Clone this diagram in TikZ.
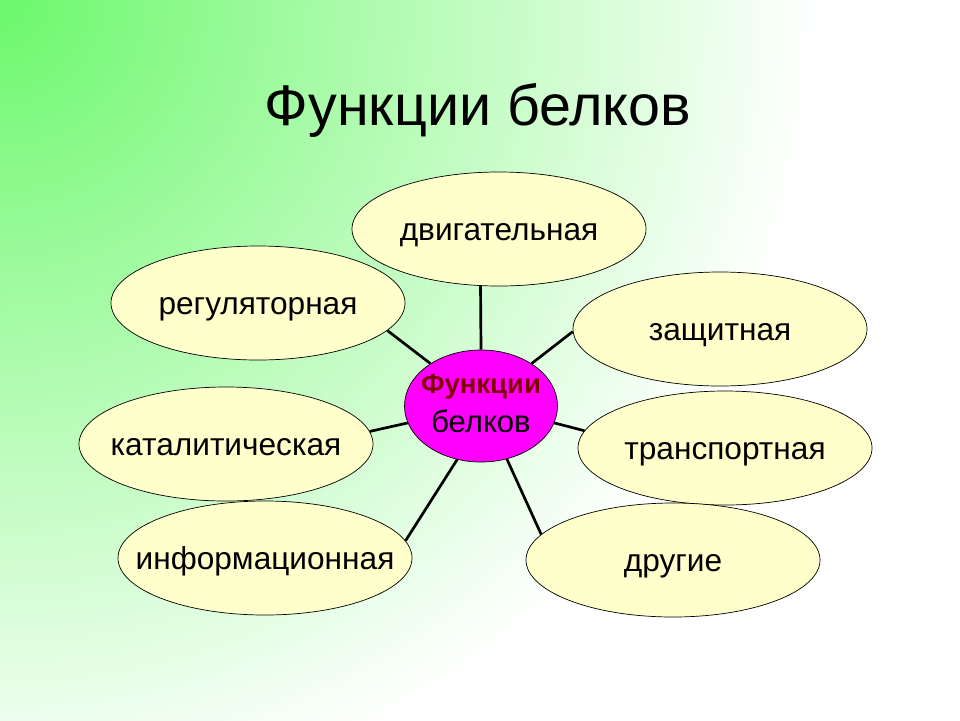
\documentclass[tikz,border=0pt]{standalone}
\usepackage{fontspec}
\setmainfont{Liberation Sans}
\usetikzlibrary{shapes.geometric}

\definecolor{bggreen}{RGB}{108,248,108}
\definecolor{petalfill}{RGB}{255,255,204}
\definecolor{corefill}{RGB}{255,0,255}
\definecolor{corered}{RGB}{128,0,0}
\newcommand{\nowidth}[1]{\makebox[0pt]{#1}}

\begin{document}
\begin{tikzpicture}[x=0.03cm, y=-0.03cm,
  petal/.style={ellipse, draw, line width=0.6pt, fill=petalfill, inner sep=0pt,
    minimum width=8.82cm, minimum height=3.42cm, text height=18.8pt, text depth=0pt,
    font=\fontsize{27}{30}\selectfont},
  core/.style={ellipse, draw, line width=0.6pt, fill=corefill, inner sep=0pt,
    minimum width=4.59cm, minimum height=3.36cm, align=center,
    font=\fontsize{26.5}{34}\selectfont},
  spoke/.style={line width=2.3pt}]
\useasboundingbox (0,0) rectangle (960,720);
\begin{scope}
\clip (0,0) rectangle (960,720);
\fill[white] (0,0) rectangle (960,720);
\shade[inner color=bggreen, outer color=white] (0,0) circle (820);
\end{scope}

% title
\node[anchor=base, font=\fontsize{49}{60}\selectfont] (title) at (478,125) {Функции белков};

% centre and petals
\node[core] (c) at (481,406) {\nowidth{\rule{0pt}{20pt}\fontsize{23.5}{34}\selectfont\bfseries\color{corered}Функции}\\
  \nowidth{\rule[-8pt]{0pt}{8pt}белков}};
\node[petal] (dvig) at (499,229) {\nowidth{двигательная}};
\node[petal] (reg) at (258,303) {\nowidth{регуляторная}};
\node[petal] (zash) at (720,329) {\nowidth{защитная}};
\node[petal] (kat) at (226,444) {\nowidth{каталитическая}};
\node[petal] (trans) at (725,448) {\nowidth{транспортная}};
\node[petal] (inf) at (265,558) {\nowidth{информационная}};
\node[petal] (dr) at (673,560) {\nowidth{другие}};

% spokes
\draw[spoke] (c.90) -- (dvig.-108);
\draw[spoke] (c.140) -- (reg.-12);
\draw[spoke] (c.40) -- (zash.181);
\draw[spoke] (c.193) -- (kat.5);
\draw[spoke] (c.-13) -- (trans.173);
\draw[spoke] (c.-114) -- (inf.7);
\draw[spoke] (c.-64) -- (dr.169);
\end{tikzpicture}
\end{document}
